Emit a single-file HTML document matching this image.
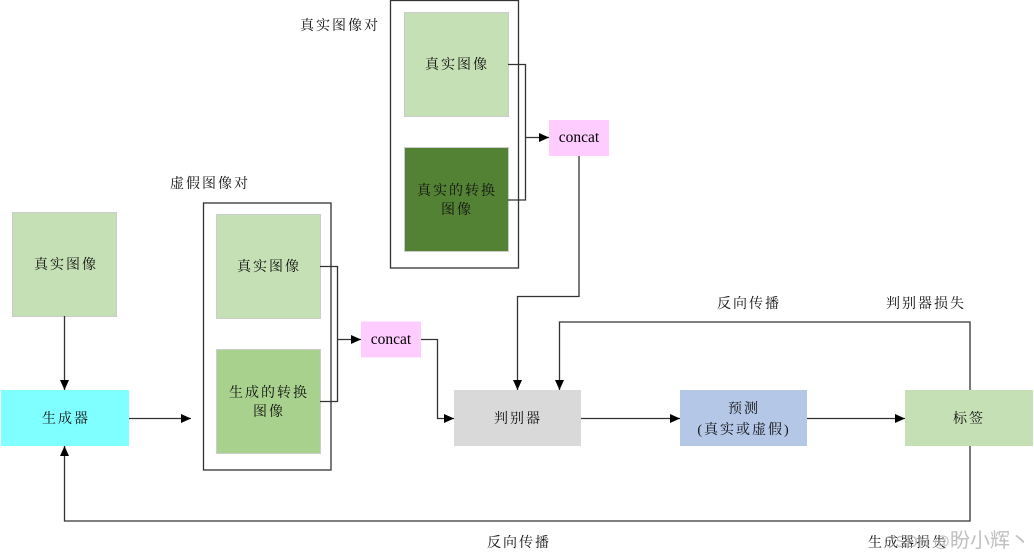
<!DOCTYPE html>
<html><head><meta charset="utf-8">
<style>
html,body{margin:0;padding:0;background:#fff;width:1034px;height:558px;overflow:hidden}
svg{display:block}
text{font-family:"Liberation Serif","Noto Serif CJK SC",serif;font-size:14px;fill:#111;text-anchor:middle;letter-spacing:2px}
.c{letter-spacing:0;font-size:15.5px;fill:#000}
.w{font-family:"Liberation Sans","Noto Sans CJK SC",sans-serif;fill:#aaa;fill-opacity:.75;letter-spacing:0;text-anchor:start}
.l{fill:none;stroke:#333;stroke-width:1.3}
.b{stroke:#ccc;stroke-width:1}
</style></head><body>
<svg width="1034" height="558" viewBox="0 0 1034 558" xmlns="http://www.w3.org/2000/svg">
<defs><marker id="a" markerUnits="userSpaceOnUse" markerWidth="10" markerHeight="10" refX="10" refY="5" orient="auto"><path d="M0 0.5L10 5L0 9.5z" fill="#000"/></marker></defs>
<rect x="390.5" y="0.5" width="128" height="267.5" fill="#fff" stroke="#333" stroke-width="1.3"/>
<rect x="203.5" y="203" width="127.5" height="267" fill="#fff" stroke="#333" stroke-width="1.3"/>
<rect class="b" x="404.5" y="12.5" width="104" height="104" fill="#c5e0b4"/>
<rect class="b" x="404.5" y="147.5" width="104" height="104" fill="#548235"/>
<rect x="549" y="120" width="60" height="36" fill="#ffccff"/>
<rect class="b" x="216.5" y="214.5" width="104" height="104" fill="#c5e0b4"/>
<rect class="b" x="216.5" y="349.5" width="104" height="104" fill="#a9d18e"/>
<rect x="361" y="321.5" width="60" height="36" fill="#ffccff"/>
<rect class="b" x="12.5" y="212.5" width="104" height="104" fill="#c5e0b4"/>
<rect x="1" y="390" width="128" height="56" fill="#7fffff"/>
<rect x="454" y="390" width="127" height="56" fill="#d9d9d9"/>
<rect x="680" y="390" width="127" height="56" fill="#b4c7e7"/>
<rect x="905" y="390" width="128" height="56" fill="#c5e0b4"/>
<path class="l" d="M508 64.5H525.5V200H508"/>
<path class="l" d="M525.5 137.5H549" marker-end="url(#a)"/>
<path class="l" d="M320 266.5H337.5V401.5H320"/>
<path class="l" d="M337.5 339.5H361" marker-end="url(#a)"/>
<path class="l" d="M421 339.5H437.5V418.5H454" marker-end="url(#a)"/>
<path class="l" d="M64.5 316V390" marker-end="url(#a)"/>
<path class="l" d="M129 418.5H191" marker-end="url(#a)"/>
<path class="l" d="M579 156V296.5H517.5V390" marker-end="url(#a)"/>
<path class="l" d="M581 418.5H680" marker-end="url(#a)"/>
<path class="l" d="M807 418.5H905" marker-end="url(#a)"/>
<path class="l" d="M970 390V322H559.5V390" marker-end="url(#a)"/>
<path class="l" d="M970 446V521H64.5V446" marker-end="url(#a)"/>
<text x="340" y="30">真实图像对</text>
<text x="457" y="69">真实图像</text>
<text x="457" y="195">真实的转换</text>
<text x="457" y="214">图像</text>
<text class="c" x="579" y="142">concat</text>
<text x="210" y="188">虚假图像对</text>
<text x="269" y="271">真实图像</text>
<text x="269" y="397">生成的转换</text>
<text x="269" y="416">图像</text>
<text class="c" x="391" y="344">concat</text>
<text x="66" y="269">真实图像</text>
<text x="66" y="423">生成器</text>
<text x="518" y="423">判别器</text>
<text x="744" y="413">预测</text>
<text x="744" y="434">(真实或虚假)</text>
<text x="969" y="423">标签</text>
<text x="749" y="308">反向传播</text>
<text x="926" y="308">判别器损失</text>
<text x="519" y="547">反向传播</text>
<text x="908" y="547">生成器损失</text>
<text class="w" x="884" y="547" style="font-size:16px">CSDN @<tspan style="font-size:20px">盼小辉丶</tspan></text>
</svg>
</body></html>
